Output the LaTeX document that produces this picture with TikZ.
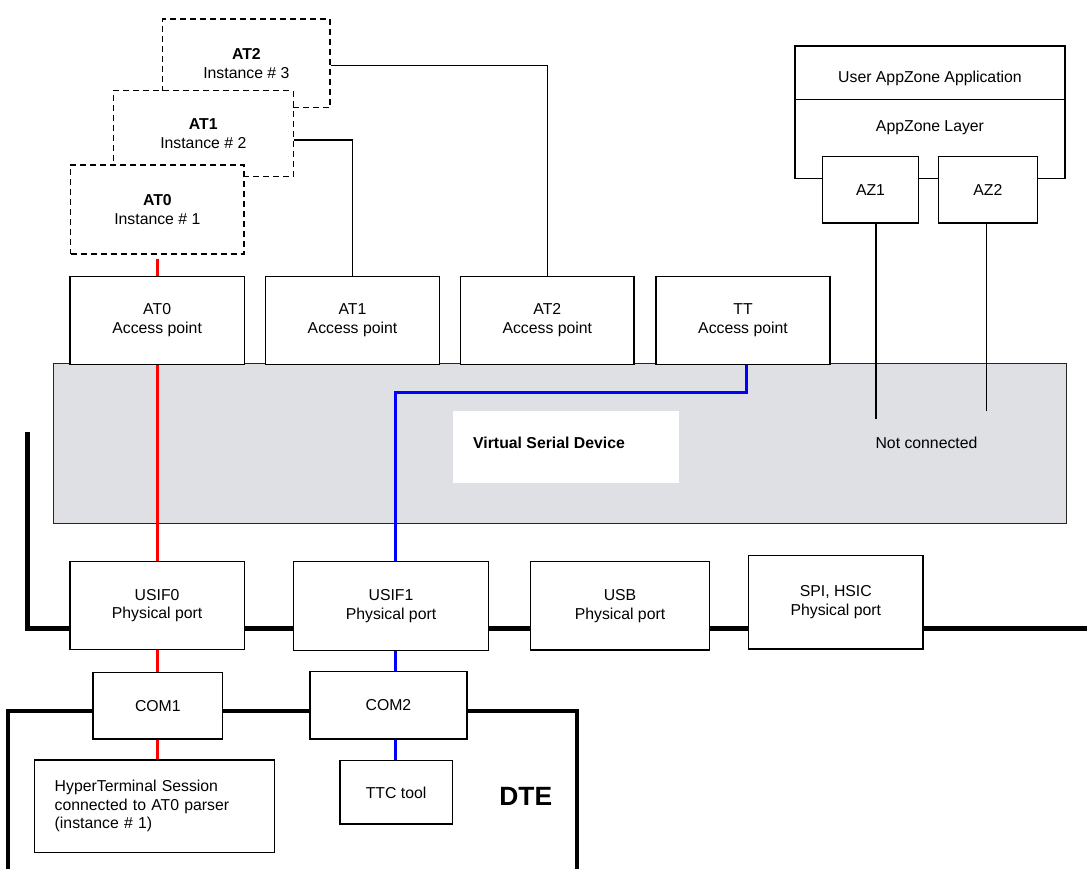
\documentclass[tikz,border=0pt]{standalone}
\usepackage{fontspec}
\setmainfont{Liberation Sans}
\definecolor{vsdgray}{RGB}{223,224,228}
\newcommand{\diagfont}{\fontsize{15.8}{18.5}\selectfont}
\begin{document}
\begin{tikzpicture}[x=1pt,y=-1pt,
  box/.style={draw, fill=white, line width=1.4pt, inner sep=0pt, align=center, font=\diagfont},
  inst/.style={box, dash pattern=on 6pt off 4pt},
  plain/.style={inner sep=0pt, align=center, font=\diagfont},
  wire/.style={line width=1.4pt},
  redwire/.style={line width=3pt, red},
  bluewire/.style={line width=3pt, blue},
  bus/.style={line width=5pt},
  dteline/.style={line width=4pt}
]
\fill[white] (0,0) rectangle (1087,869);
\useasboundingbox (0,0) rectangle (1087,869);

% parser instances, stacked
\node[inst, minimum width=167.3, minimum height=88.7] (at2inst) at (246.35,63.35) {\textbf{AT2}\\Instance \# 3};
\node[inst, minimum width=180, minimum height=86] (at1inst) at (203.3,133.7) {\textbf{AT1}\\Instance \# 2};
\node[inst, minimum width=173.3, minimum height=89] (at0inst) at (157.35,209.5) {\textbf{AT0}\\Instance \# 1};

% AppZone stack
\node[box, minimum width=270, minimum height=132.3] (appbox) at (930,112.15) {};
\draw[wire] ([yshift=-54pt]appbox.north west) -- ([yshift=-54pt]appbox.north east);
\node[plain] (apptitle) at (930,78) {User AppZone Application};
\node[plain] (applayer) at (930,127.3) {AppZone Layer};
\node[box, minimum width=96.4, minimum height=66.3] (az1) at (870.5,189.85) {AZ1};
\node[box, minimum width=99, minimum height=66.3] (az2) at (987.8,189.85) {AZ2};

% virtual serial device
\node[draw=black!85, fill=vsdgray, line width=1.4pt, minimum width=1013, minimum height=160, inner sep=0pt] (vsd) at (560.2,443.3) {};
\node[fill=white, minimum width=226.2, minimum height=71.4, inner sep=0pt] (vsdbox) at (565.8,447) {};
\node[anchor=west, inner sep=0pt, font=\diagfont\bfseries] (vsdtext) at (473,443) {Virtual Serial Device};
\node[plain] (nc) at (926.5,443.3) {Not connected};

% access points
\node[box, minimum width=174.3, minimum height=88] (at0ap) at (157.15,320.2) {AT0\\Access point};
\node[box, minimum width=173.6, minimum height=88] (at1ap) at (352.5,320.2) {AT1\\Access point};
\node[box, minimum width=173.4, minimum height=88] (at2ap) at (547.3,320.2) {AT2\\Access point};
\node[box, minimum width=174, minimum height=88] (ttap) at (743,320.2) {TT\\Access point};

% physical port bus and DTE outline
\coordinate (busstart) at (27.3,432.3);
\coordinate (busend) at (1087,628.3);
\draw[bus] (busstart) |- (busend);
\coordinate (dteleft) at (8.4,869);
\coordinate (dtecorner) at (577,711);
\coordinate (dteright) at (577,869);
\draw[dteline] (dteleft) |- (dtecorner) -- (dteright);

% physical ports
\node[box, minimum width=174.2, minimum height=87.6] (usif0) at (157.1,605.5) {USIF0\\Physical port};
\node[box, minimum width=195.5, minimum height=88.6] (usif1) at (391,606) {USIF1\\Physical port};
\node[box, minimum width=178.6, minimum height=88.3] (usb) at (620,605.9) {USB\\Physical port};
\node[box, minimum width=174.4, minimum height=93.7] (spi) at (835.8,602.2) {SPI, HSIC\\Physical port};

% DTE side
\node[box, minimum width=129.7, minimum height=66.3] (com1) at (157.85,705.85) {COM1};
\node[box, minimum width=156.9, minimum height=67.7] (com2) at (388.45,705.15) {COM2};
\node[box, align=left, text width=199.4pt, inner xsep=20.3pt, minimum height=92.3] (hyper) at (154.4,806.15) {HyperTerminal Session\\connected to AT0 parser\\(instance \# 1)};
\node[box, minimum width=112.6, minimum height=63.3] (ttc) at (396.1,792.35) {TTC tool};
\node[inner sep=0pt, font=\fontsize{26.4}{30}\selectfont\bfseries] (dte) at (525.8,796.7) {DTE};

% instance to access point links
\draw[wire] ([yshift=-2.35pt]at2inst.east) -| (at2ap.north);
\draw[wire] ([yshift=-6.3pt]at1inst.east) -| (at1ap.north);

% AT0 path
\draw[redwire] ([yshift=-4pt]at0inst.south) -- (at0inst.south |- at0ap.north);
\draw[redwire] (at0ap.south) -- (at0ap.south |- usif0.north);
\draw[redwire] (usif0.south) -- (usif0.south |- com1.north);
\draw[redwire] (com1.south) -- (com1.south |- hyper.north);

% TT path
\coordinate (vsdbend) at (395.7,392.7);
\draw[bluewire] ([xshift=3pt]ttap.south) |- (vsdbend) -- (vsdbend |- usif1.north);
\draw[bluewire] (vsdbend |- usif1.south) -- (vsdbend |- com2.north);
\draw[bluewire] (vsdbend |- com2.south) -- (vsdbend |- ttc.north);

% AppZone ports, left open
\coordinate (az1free) at (876,419.3);
\coordinate (az2free) at (986.7,411);
\draw[wire] (az1free |- az1.south) -- (az1free);
\draw[wire] (az2free |- az2.south) -- (az2free);
\end{tikzpicture}
\end{document}
